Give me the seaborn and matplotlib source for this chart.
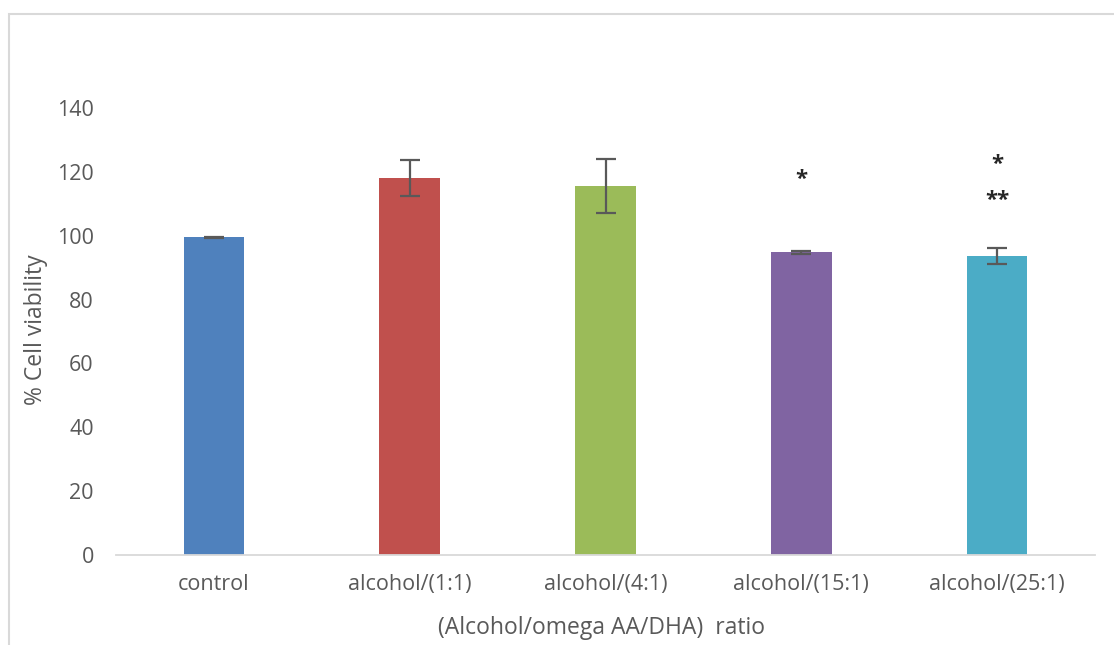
import matplotlib
matplotlib.use("Agg")
import matplotlib.pyplot as plt
import seaborn as sns
import pandas as pd
from matplotlib.patches import Rectangle

categories = ["control", "alcohol/(1:1)", "alcohol/(4:1)", "alcohol/(15:1)", "alcohol/(25:1)"]
viability = [99.5, 118.1, 115.6, 94.8, 93.6]
errors = [0.2, 5.6, 8.5, 0.5, 2.5]
colors = ["#4F81BD", "#C0504D", "#9BBB59", "#8064A2", "#4BACC6"]
yticks = [0, 20, 40, 60, 80, 100, 120, 140]

# significance marks: (category index, y position, label)
marks = [(3, 117.5, "*"), (4, 122.3, "*"), (4, 111.0, "**")]

sns.set_theme(style="white")
plt.rcParams["font.family"] = ["Open Sans", "DejaVu Sans"]

df = pd.DataFrame({"group": categories, "value": viability})

fig = plt.figure(figsize=(11.14, 6.45), dpi=100)
ax = fig.add_axes([116 / 1114, 1 - 555 / 645, (1095 - 116) / 1114, (555 - 108) / 645])

sns.barplot(data=df, x="group", y="value", hue="group", palette=colors,
            order=categories, hue_order=categories, width=0.31,
            dodge=False, legend=False, ax=ax, errorbar=None,
            edgecolor="none", saturation=1)
ax.errorbar(range(len(categories)), viability, yerr=errors, fmt="none",
            ecolor="#595959", elinewidth=1.6, capsize=7, capthick=1.6, zorder=5)

for idx, yv, label in marks:
    ax.text(idx, yv, label, ha="center", va="center", fontsize=16,
            fontweight="bold", color="#262626")

ax.set_ylim(0, 140)
ax.set_xlim(-0.5, len(categories) - 0.5)
ax.set_yticks(yticks)
ax.tick_params(axis="both", length=0, labelsize=15.5, labelcolor="#595959")
ax.tick_params(axis="y", pad=16)
ax.tick_params(axis="x", pad=14)

for side in ["top", "right", "left"]:
    ax.spines[side].set_visible(False)
ax.spines["bottom"].set_color("#d9d9d9")
ax.spines["bottom"].set_linewidth(1.3)

ax.set_xlabel("(Alcohol/omega AA/DHA)  ratio", fontsize=16.5, color="#595959")
ax.set_ylabel("% Cell viability", fontsize=16.5, color="#595959")
ax.xaxis.set_label_coords(0.496, -0.163)
ax.yaxis.set_label_coords(-0.082, 0.503)
ax.xaxis.label.set_va("center")
ax.yaxis.label.set_va("center")

# chart area border
fig.patches.append(Rectangle((8.5 / 1114, -0.05), 1.2, 1 - 14.5 / 645 + 0.05,
                             transform=fig.transFigure, fill=False,
                             edgecolor="#d9d9d9", linewidth=1.5))

fig.savefig("out.png", dpi=100, facecolor="white")
